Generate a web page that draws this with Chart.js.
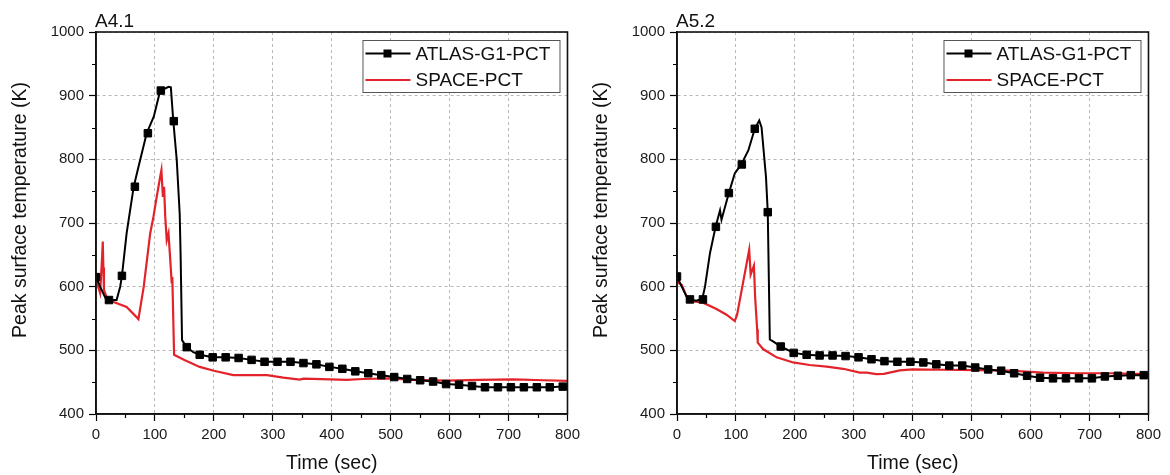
<!DOCTYPE html>
<html>
<head>
<meta charset="utf-8">
<script src="https://cdn.jsdelivr.net/npm/chart.js@4"></script>
<style>
  body { margin: 0; background: #fff; }
  #wrap { position: relative; width: 1170px; height: 475px; }
  canvas { position: absolute; top: 0; }
</style>
</head>
<body>
<div id="wrap">
  <canvas id="chartA41" width="585" height="475" style="left:0"></canvas>
  <canvas id="chartA52" width="585" height="475" style="left:581px"></canvas>
</div>
<script>
// marker positions (every 22 s) shared by both ATLAS curves
var markTimes = [0, 22, 44, 66, 88, 110, 132, 154, 176, 198, 220, 242, 264, 286, 308, 330, 352, 374, 396,
  418, 440, 462, 484, 506, 528, 550, 572, 594, 616, 638, 660, 682, 704, 726, 748, 770, 792];

// A4.1 - ATLAS-G1-PCT
var a41AtlasTime = [0, 8, 16, 22, 35, 41, 44, 52, 64, 72, 86, 98, 109, 117, 123, 127, 131, 137, 142, 143.5, 146,
  153, 165, 176, 198, 220, 242, 264, 286, 308, 330, 352, 374, 396, 418, 440, 462, 484, 506, 528, 550, 572,
  594, 616, 638, 660, 682, 704, 726, 748, 770, 792, 800];
var a41AtlasTemp = [615, 598, 582, 579, 579, 600, 617, 684, 757, 788, 841, 867, 908, 911, 914, 913, 862, 799, 715, 653, 516,
  506, 497, 493, 489, 489, 488, 485, 482, 482, 482, 480, 478, 474, 471, 467, 464, 461, 458, 455, 453, 451,
  447, 446, 444, 442, 442, 442, 442, 442, 442, 443, 443];
var a41AtlasMarks = [615, 579, 617, 757, 841, 908, 860, 505, 493, 489, 489, 488, 485, 482, 482, 482, 480, 478, 474,
  471, 467, 464, 461, 458, 455, 453, 451, 447, 446, 444, 442, 442, 442, 442, 442, 442, 443];

// A4.1 - SPACE-PCT
var a41SpaceTime = [0, 1, 7, 10, 11.5, 12.5, 13.5, 18.5, 30, 52, 72, 81, 92, 97.5, 103, 109, 111, 113.5, 115.5, 117.5,
  120, 123, 126, 128.5, 129.5, 132.5, 150, 176, 200, 233, 290, 318, 346, 352, 397, 425, 453, 499, 538, 595,
  651, 708, 760, 800];
var a41SpaceTemp = [621, 608, 590, 640, 671, 630, 595, 582, 576, 568, 549, 600, 684, 710, 741, 773, 783, 741, 757, 710,
  673, 684, 642, 605, 615, 493, 485, 474, 468, 461, 461, 457, 454, 455.5, 454.5, 453.5, 455, 456, 453.5, 452.5,
  453.5, 454.5, 453, 452];

// A5.2 - ATLAS-G1-PCT
var a52AtlasTime = [0, 8, 16, 21, 33, 43, 47.5, 56, 65.5, 73, 75.5, 88, 98, 109, 121, 132, 139.5, 143.5, 151, 154,
  157.5, 163, 176, 198, 220, 242, 264, 286, 308, 330, 352, 374, 396, 418, 440, 462, 484, 506, 528, 550, 572,
  594, 616, 638, 660, 682, 704, 726, 748, 770, 792, 800];
var a52AtlasTemp = [616, 600, 585, 580, 578, 581, 600, 653, 694, 720, 705, 747, 778, 792, 814, 848, 861, 850, 772, 717,
  517, 514, 506, 496, 493, 492, 492, 491, 489, 486, 483, 482, 482, 481, 478, 476, 476, 473, 470, 468, 464,
  460, 457, 456, 456, 456, 456, 459, 460, 461, 461, 461];
var a52AtlasMarks = [616, 580, 580, 694, 747, 792, 848, 717, 506, 496, 493, 492, 492, 491, 489, 486, 483, 482, 482,
  481, 478, 476, 476, 473, 470, 468, 464, 460, 457, 456, 456, 456, 456, 459, 460, 461, 461];

// A5.2 - SPACE-PCT
var a52SpaceTime = [0, 2, 8, 16, 22, 45, 67, 84, 98, 102, 112, 122.5, 125, 130.5, 132.5, 135, 136, 137, 146, 169,
  197, 225, 254, 282, 310, 322, 338, 351, 378, 400, 451, 508, 564, 621, 677, 734, 800];
var a52SpaceTemp = [624, 606, 603, 585, 578, 574.5, 565, 556, 546, 556, 606, 658, 619, 633, 585, 548, 533, 512, 502, 489,
  481, 477, 474.5, 471, 465, 465, 462.5, 463, 468.5, 470, 469.5, 469, 468, 465, 464, 464, 462.5];

var seriesNames = ["ATLAS-G1-PCT", "SPACE-PCT"];
var FONT = "'Liberation Sans', Arial, sans-serif";
var RED = "#e3232a";

function toXY(xs, ys) {
  var out = [];
  for (var i = 0; i < xs.length; i++) out.push({ x: xs[i], y: ys[i] });
  return out;
}

// frame, minor ticks, panel label, y title and the in-plot legend
var panelDecor = {
  id: "panelDecor",
  afterDraw: function (chart, args, opts) {
    var ctx = chart.ctx;
    var a = chart.chartArea;
    var xs = chart.scales.x, ys = chart.scales.y;
    ctx.save();

    // minor ticks
    ctx.strokeStyle = "#000";
    ctx.lineWidth = 1.2;
    ctx.beginPath();
    for (var v = 50; v < 800; v += 100) {
      var px = Math.round(xs.getPixelForValue(v)) + 0.5;
      ctx.moveTo(px, a.bottom);
      ctx.lineTo(px, a.bottom + 4);
    }
    for (var w = 450; w < 1000; w += 100) {
      var py = Math.round(ys.getPixelForValue(w)) + 0.5;
      ctx.moveTo(a.left, py);
      ctx.lineTo(a.left - 4, py);
    }
    ctx.stroke();

    // frame
    ctx.lineWidth = 1.6;
    ctx.strokeStyle = "#111";
    ctx.strokeRect(a.left, a.top, a.right - a.left, a.bottom - a.top);

    // panel label
    ctx.fillStyle = "#111";
    ctx.font = "19px " + FONT;
    ctx.textAlign = "left";
    ctx.textBaseline = "alphabetic";
    ctx.fillText(opts.title, a.left - 1, a.top - 5);

    // y axis title
    ctx.save();
    ctx.translate(21, a.top + 178);
    ctx.rotate(-Math.PI / 2);
    ctx.textAlign = "center";
    ctx.textBaseline = "middle";
    ctx.font = "19.5px " + FONT;
    ctx.fillText("Peak surface temperature (K)", 0, 0);
    ctx.restore();

    // legend
    var bw = 197, bh = 52;
    var bx = a.right - 8 - bw, by = a.top + 8;
    ctx.fillStyle = "#fff";
    ctx.fillRect(bx, by, bw, bh);
    ctx.strokeStyle = "#555";
    ctx.lineWidth = 1;
    ctx.strokeRect(bx + 0.5, by + 0.5, bw, bh);

    var r1 = by + 13.5, r2 = by + 40;
    ctx.strokeStyle = "#000";
    ctx.lineWidth = 2;
    ctx.beginPath();
    ctx.moveTo(bx + 3, r1);
    ctx.lineTo(bx + 48, r1);
    ctx.stroke();
    ctx.fillStyle = "#000";
    ctx.fillRect(bx + 21, r1 - 4, 8, 8);

    ctx.strokeStyle = RED;
    ctx.lineWidth = 2.2;
    ctx.beginPath();
    ctx.moveTo(bx + 3, r2);
    ctx.lineTo(bx + 48, r2);
    ctx.stroke();

    ctx.fillStyle = "#111";
    ctx.font = "19px " + FONT;
    ctx.textAlign = "left";
    ctx.textBaseline = "middle";
    ctx.fillText(seriesNames[0], bx + 53, r1 + 1);
    ctx.fillText(seriesNames[1], bx + 53, r2 + 1);
    ctx.restore();
  }
};

function axisOpts(min, max, title, fit) {
  return {
    type: "linear",
    min: min,
    max: max,
    afterFit: fit,
    ticks: {
      stepSize: 50,
      autoSkip: false,
      maxRotation: 0,
      padding: 5,
      color: "#1a1a1a",
      font: { family: FONT, size: 15 },
      callback: function (v) { return v % 100 === 0 ? v : ""; }
    },
    grid: {
      color: function (c) { return c.tick && c.tick.value % 100 === 0 ? "#b8b8b8" : "rgba(0,0,0,0)"; },
      lineWidth: 1,
      tickLength: 7,
      tickWidth: 1.2,
      tickColor: function (c) { return c.tick && c.tick.value % 100 === 0 ? "#000" : "rgba(0,0,0,0)"; }
    },
    border: { color: "#111", width: 1.6, dash: [3, 3] },
    title: title
  };
}

function buildChart(id, label, atlasTime, atlasTemp, atlasMarks, spaceTime, spaceTemp) {
  var ctx = document.getElementById(id).getContext("2d");
  return new Chart(ctx, {
    type: "line",
    data: {
      datasets: [
        {
          label: seriesNames[0] + " markers",
          data: toXY(markTimes, atlasMarks),
          showLine: false,
          pointStyle: "rect",
          pointRadius: 5.3,
          pointBackgroundColor: "#000",
          pointBorderColor: "#000",
          pointBorderWidth: 1
        },
        {
          label: seriesNames[0],
          data: toXY(atlasTime, atlasTemp),
          borderColor: "#000",
          borderWidth: 2,
          pointRadius: 0,
          tension: 0
        },
        {
          label: seriesNames[1],
          data: toXY(spaceTime, spaceTemp),
          borderColor: RED,
          borderWidth: 2.2,
          pointRadius: 0,
          tension: 0
        }
      ]
    },
    options: {
      responsive: false,
      animation: false,
      layout: { padding: { top: 32, right: 17, left: 0, bottom: 0 } },
      plugins: {
        legend: { display: false },
        tooltip: { enabled: false },
        panelDecor: { title: label }
      },
      scales: {
        x: axisOpts(0, 800, {
          display: true,
          text: "Time (sec)",
          color: "#111",
          font: { family: FONT, size: 19.5 },
          padding: { top: 0, bottom: 0 }
        }, function (s) { s.height = 61; }),
        y: axisOpts(400, 1000, { display: false }, function (s) { s.width = 96; })
      }
    },
    plugins: [panelDecor]
  });
}

buildChart("chartA41", "A4.1", a41AtlasTime, a41AtlasTemp, a41AtlasMarks, a41SpaceTime, a41SpaceTemp);
buildChart("chartA52", "A5.2", a52AtlasTime, a52AtlasTemp, a52AtlasMarks, a52SpaceTime, a52SpaceTemp);
</script>
</body>
</html>
